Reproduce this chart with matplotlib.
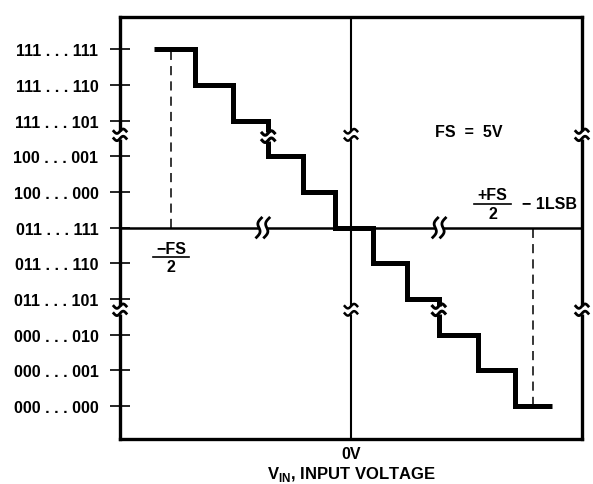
import numpy as np
import matplotlib
matplotlib.use("Agg")
import matplotlib.pyplot as plt
from matplotlib import transforms

plt.rcParams["font.family"] = ["Liberation Sans", "DejaVu Sans"]
plt.rcParams["font.weight"] = "bold"
plt.rcParams["mathtext.fontset"] = "custom"
plt.rcParams["mathtext.rm"] = "Liberation Sans:bold"
plt.rcParams["mathtext.bf"] = "Liberation Sans:bold"

# output codes, bottom to top (y = code index)
codes = ["000 . . . 000", "000 . . . 001", "000 . . . 010", "011 . . . 101",
         "011 . . . 110", "011 . . . 111", "100 . . . 000", "100 . . . 001",
         "111 . . . 101", "111 . . . 110", "111 . . . 111"]
# staircase, x in LSB from 0V
step_edges = [-5.47, -4.33, -3.28, -2.3, -1.33, -0.44, 0.61, 1.56, 2.44, 3.53, 4.56, 5.58]
step_codes = [10, 9, 8, 7, 6, 5, 4, 3, 2, 1, 0]
neg_fs_half = -5.0
pos_fs_half_lsb = 5.05
mid_code = 5
# axis breaks
break_codes = [7.6, 2.7]
break_x = [-2.45, 2.45]
stair_breaks = [(-2.3, 7.55), (2.44, 2.7)]
x_span = 6.42

fig = plt.figure(figsize=(5.93, 4.85), dpi=100)
ax = fig.add_axes([0.2024, 0.0928, 0.779, 0.870])
ax.set_xlim(-x_span, x_span)
ax.set_ylim(-0.92, 10.9)
for sp in ax.spines.values():
    sp.set_linewidth(2.4)

ax.set_yticks(range(len(codes)))
ax.set_yticklabels(codes, fontsize=11.5, fontweight="bold")
ax.tick_params(axis="y", direction="inout", length=14, width=1.2, pad=8.5)
ax.set_xticks([0])
ax.set_xticklabels(["0V"], fontsize=11.5, fontweight="bold")
ax.tick_params(axis="x", length=0, pad=5)
ax.set_xlabel(r"V$_{\mathbf{IN}}$, INPUT VOLTAGE", fontsize=12,
              fontweight="bold", labelpad=2)

ax.axhline(mid_code, color="black", lw=1.8, zorder=2)
ax.axvline(0, color="black", lw=1.5, zorder=2)
ax.stairs(step_codes, step_edges, baseline=None, color="black", lw=3.6,
          zorder=3)
ax.vlines(neg_fs_half, mid_code, step_codes[0], color="black", lw=1.1,
          linestyles=(0, (6, 4)), zorder=2)
ax.vlines(pos_fs_half_lsb, step_codes[-1], mid_code, color="black", lw=1.1,
          linestyles=(0, (6, 4)), zorder=2)


def pt_trans(x, y):
    return (transforms.Affine2D().scale(1 / 72) + fig.dpi_scale_trans
            + transforms.ScaledTranslation(x, y, ax.transData))


def vbreak(x, y, lw=1.8):
    tr = pt_trans(x, y)
    ax.plot([0, 0], [-3, 3], color="white", lw=5, transform=tr,
            clip_on=False, zorder=6, solid_capstyle="butt")
    t = np.linspace(-1, 1, 30)
    for s in (-1, 1):
        ax.plot(4.5 * t, s * 2.6 + 1.6 * np.sin(np.pi * t), color="black",
                lw=lw, transform=tr, clip_on=False, zorder=7)


def hbreak(x, y):
    tr = pt_trans(x, y)
    ax.plot([-3, 3], [0, 0], color="white", lw=5, transform=tr,
            clip_on=False, zorder=6, solid_capstyle="butt")
    t = np.linspace(-1, 1, 30)
    for s in (-1, 1):
        ax.plot(s * 2.8 - 1.6 * np.sin(np.pi * t) + 1.8 * t, 7 * t,
                color="black", lw=2.0, transform=tr, clip_on=False, zorder=7)


for yb in break_codes:
    vbreak(-x_span, yb, 2.0)
    vbreak(0, yb)
    vbreak(x_span, yb, 2.0)
for xb in break_x:
    hbreak(xb, mid_code)
for xb, yb in stair_breaks:
    vbreak(xb, yb, 2.2)


def fraction(x, y, num, den, width=26):
    tr = pt_trans(x, y)
    ax.plot([-width / 2, width / 2], [0, 0], color="black", lw=1.2,
            transform=tr, clip_on=False)
    ax.text(0, 1.2, num, transform=tr, ha="center", va="bottom",
            fontsize=11.5, fontweight="bold")
    ax.text(0, -1.2, den, transform=tr, ha="center", va="top",
            fontsize=11.5, fontweight="bold")


fraction(neg_fs_half, 4.17, "\u2212FS", "2")
fraction(3.94, 5.66, "+FS", "2", width=27)
ax.text(4.75, 5.69, "\u2212 1LSB", ha="left", va="center", fontsize=11.5,
        fontweight="bold")
ax.text(3.28, 7.7, "FS  =  5V", ha="center", va="center", fontsize=11.5,
        fontweight="bold")

fig.savefig("out.png", dpi=100)
